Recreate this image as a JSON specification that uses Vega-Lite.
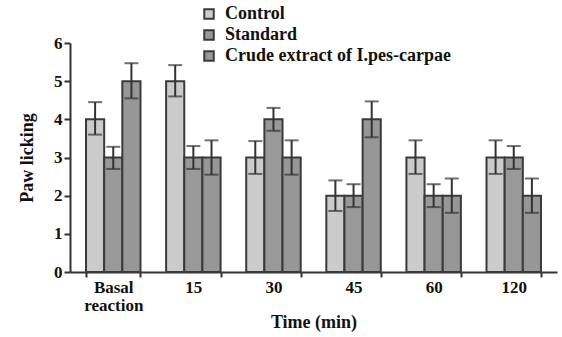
{
  "$schema": "https://vega.github.io/schema/vega-lite/v6.json",
  "width": 487,
  "height": 229,
  "autosize": {"type": "none"},
  "padding": {"left": 70, "top": 43, "right": 5, "bottom": 65},
  "background": "white",
  "config": {
    "view": {"stroke": null},
    "font": "Liberation Serif",
    "axis": {"grid": false, "domainColor": "#333333", "domainWidth": 2, "tickColor": "#333333", "tickWidth": 2, "labelFont": "Liberation Serif", "labelFontWeight": "bold", "labelFontSize": 17, "labelColor": "#111111", "titleFont": "Liberation Serif", "titleFontWeight": "bold", "titleFontSize": 18, "titleColor": "#111111"},
    "axisY": {"values": [0, 1, 2, 3, 4, 5, 6], "tickSize": 6, "labelPadding": 2, "titlePadding": 17, "labelOverlap": false},
    "legend": {"labelFont": "Liberation Serif", "labelFontWeight": "bold", "labelFontSize": 18, "labelColor": "#111111", "labelLimit": 400}
  },
  "data": {
    "values": [
      {"time": "Basal reaction", "group": "Control", "mean": 4, "lo": 3.6, "hi": 4.45},
      {"time": "Basal reaction", "group": "Standard", "mean": 3, "lo": 2.7, "hi": 3.28},
      {"time": "Basal reaction", "group": "Crude extract of I.pes-carpae", "mean": 5, "lo": 4.55, "hi": 5.47},
      {"time": "15", "group": "Control", "mean": 5, "lo": 4.6, "hi": 5.42},
      {"time": "15", "group": "Standard", "mean": 3, "lo": 2.7, "hi": 3.3},
      {"time": "15", "group": "Crude extract of I.pes-carpae", "mean": 3, "lo": 2.55, "hi": 3.45},
      {"time": "30", "group": "Control", "mean": 3, "lo": 2.57, "hi": 3.43},
      {"time": "30", "group": "Standard", "mean": 4, "lo": 3.7, "hi": 4.3},
      {"time": "30", "group": "Crude extract of I.pes-carpae", "mean": 3, "lo": 2.55, "hi": 3.45},
      {"time": "45", "group": "Control", "mean": 2, "lo": 1.6, "hi": 2.4},
      {"time": "45", "group": "Standard", "mean": 2, "lo": 1.7, "hi": 2.3},
      {"time": "45", "group": "Crude extract of I.pes-carpae", "mean": 4, "lo": 3.53, "hi": 4.47},
      {"time": "60", "group": "Control", "mean": 3, "lo": 2.57, "hi": 3.45},
      {"time": "60", "group": "Standard", "mean": 2, "lo": 1.7, "hi": 2.3},
      {"time": "60", "group": "Crude extract of I.pes-carpae", "mean": 2, "lo": 1.55, "hi": 2.45},
      {"time": "120", "group": "Control", "mean": 3, "lo": 2.57, "hi": 3.45},
      {"time": "120", "group": "Standard", "mean": 3, "lo": 2.7, "hi": 3.3},
      {"time": "120", "group": "Crude extract of I.pes-carpae", "mean": 2, "lo": 1.55, "hi": 2.45}
    ]
  },
  "encoding": {
    "x": {
      "field": "time", "type": "nominal", "sort": null,
      "scale": {"paddingInner": 0.32, "paddingOuter": 0.2},
      "axis": {"title": "Time (min)", "labelAngle": 0, "tickBand": "extent", "tickSize": 5, "labelPadding": 2, "labelLineHeight": 18, "titlePadding": 0,
        "labelExpr": "datum.label == 'Basal reaction' ? ['Basal', 'reaction'] : datum.label"}
    },
    "xOffset": {"field": "group", "type": "nominal", "sort": null, "scale": {"paddingInner": 0, "paddingOuter": 0}}
  },
  "layer": [
    {
      "mark": {"type": "bar", "stroke": "#3a3a3a", "strokeWidth": 2},
      "encoding": {
        "y": {"field": "mean", "type": "quantitative", "scale": {"domain": [0, 6]}, "axis": {"title": "Paw licking"}},
        "fill": {"field": "group", "type": "nominal", "sort": null,
          "scale": {"domain": ["Control", "Standard", "Crude extract of I.pes-carpae"], "range": ["#cbcbcb", "#999999", "#979797"]},
          "legend": {"title": null, "orient": "none", "legendX": 130, "legendY": -38, "symbolType": "square", "symbolSize": 90, "symbolStrokeColor": "#3a3a3a", "symbolStrokeWidth": 2, "rowPadding": 3, "labelOffset": 7}
        }
      }
    },
    {
      "mark": {"type": "rule", "color": "#333333", "strokeWidth": 2},
      "encoding": {
        "y": {"field": "lo", "type": "quantitative", "axis": {"title": "Paw licking"}},
        "y2": {"field": "hi"}
      }
    },
    {
      "mark": {"type": "tick", "color": "#333333", "thickness": 2, "size": 14, "orient": "horizontal"},
      "encoding": {"y": {"field": "lo", "type": "quantitative", "axis": {"title": "Paw licking"}}}
    },
    {
      "mark": {"type": "tick", "color": "#333333", "thickness": 2, "size": 14, "orient": "horizontal"},
      "encoding": {"y": {"field": "hi", "type": "quantitative", "axis": {"title": "Paw licking"}}}
    }
  ]
}
